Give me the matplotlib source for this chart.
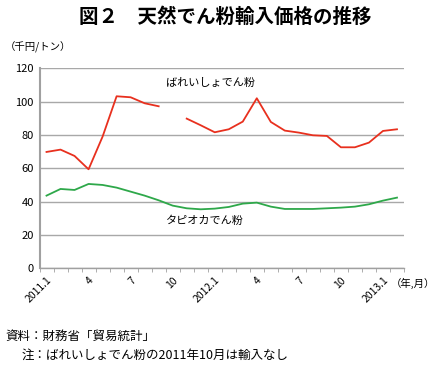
import matplotlib
matplotlib.use('Agg')
import matplotlib.pyplot as plt
import numpy as np

plt.rcParams['font.family'] = ['Noto Sans CJK JP', 'DejaVu Sans']

# 2011.1 - 2013.2 (monthly)
months = ['2011.1', '2', '3', '4', '5', '6', '7', '8', '9', '10', '11', '12',
          '2012.1', '2', '3', '4', '5', '6', '7', '8', '9', '10', '11', '12',
          '2013.1', '2']
tick_idx = [0, 3, 6, 9, 12, 15, 18, 21, 24]
tick_labels = ['2011.1', '4', '7', '10', '2012.1', '4', '7', '10', '2013.1']

# ばれいしょでん粉 (2011.10 no import)
potato = [69.8, 71.2, 67.4, 59.4, 79.0, 103.2, 102.6, 99.0, 97.2, np.nan,
          89.8, 85.8, 81.6, 83.4, 88.0, 102.0, 87.8, 82.6, 81.4, 79.8,
          79.4, 72.6, 72.6, 75.4, 82.4, 83.4]
# タピオカでん粉
tapioca = [43.6, 47.6, 47.0, 50.6, 50.0, 48.4, 46.0, 43.6, 40.8, 37.6,
           36.0, 35.4, 35.8, 36.8, 38.8, 39.4, 37.0, 35.6, 35.6, 35.6,
           36.0, 36.4, 37.0, 38.4, 40.6, 42.4]

fig = plt.figure(figsize=(4.36, 3.71), dpi=100)
ax = fig.add_axes([0.0906, 0.2768, 0.836, 0.5392])

x = np.arange(len(months))
ax.plot(x, potato, color='#e8301e', lw=1.3)
ax.plot(x, tapioca, color='#2ea84a', lw=1.3)

ax.set_xlim(-0.5, len(months) - 0.5)
ax.set_ylim(0, 120)
ax.set_yticks(range(0, 121, 20))
ax.yaxis.grid(True, color='#a8a8a8', lw=1)
ax.set_axisbelow(True)
ax.tick_params(axis='y', length=0, labelsize=8, pad=4)

# x ticks at category borders, labels at chosen months
ax.set_xticks(np.arange(len(months) + 1) - 0.5, minor=True)
ax.set_xticks(tick_idx)
ax.set_xticklabels(tick_labels, rotation=45, ha='right', rotation_mode='anchor', fontsize=7.5)
ax.tick_params(axis='x', which='major', length=0, pad=5)
ax.tick_params(axis='x', which='minor', length=3, color='#a0a0a0', direction='out')

for s in ['top', 'right']:
    ax.spines[s].set_visible(False)
ax.spines['left'].set_color('#a0a0a0')
ax.spines['left'].set_linewidth(1.5)
ax.spines['bottom'].set_color('#a0a0a0')
ax.spines['bottom'].set_linewidth(1)

ax.text(8.5, 111, 'ばれいしょでん粉', fontsize=8, va='center')
ax.text(8.5, 28.5, 'タピオカでん粉', fontsize=8, va='center')
fig.text(0.997, 0.237, '（年,月）', fontsize=7.5, va='center', ha='right')

fig.text(0.516, 0.955, '図２　天然でん粉輸入価格の推移', fontsize=14, fontweight='bold', ha='center', va='center')
fig.text(0.01, 0.873, '（千円/トン）', fontsize=7.5, va='center')
fig.text(0.012, 0.092, '資料：財務省「貿易統計」', fontsize=9, va='center')
fig.text(0.05, 0.043, '注：ばれいしょでん粉の2011年10月は輸入なし', fontsize=9, va='center')

plt.savefig('out.png', dpi=100)
